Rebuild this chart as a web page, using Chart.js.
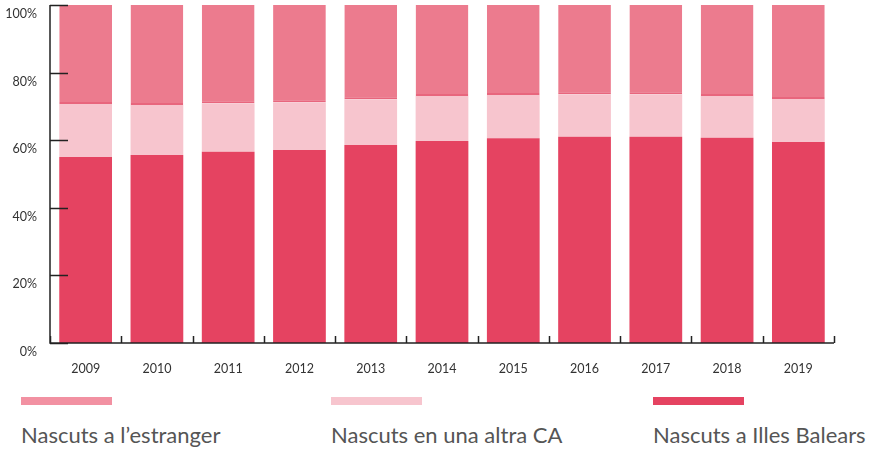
<!DOCTYPE html>
<html lang="ca">
<head>
  <meta charset="UTF-8">
  <title>Lloc de naixement</title>
  <script src="https://cdn.jsdelivr.net/npm/chart.js"></script>
  <style>
    body {
      margin: 0;
      font-family: Lato, "Open Sans", sans-serif;
      background: #fff;
    }
    #wrap {
      position: relative;
      width: 870px;
      height: 450px;
    }
    #chartBox {
      position: absolute;
      left: 0;
      top: 0;
      width: 870px;
      height: 380px;
    }
    .leg {
      position: absolute;
      top: 397px;
      font-size: 22px;
      color: #555;
    }
    .leg span {
      display: block;
      width: 91px;
      height: 8px;
      margin-bottom: 16px;
    }
  </style>
</head>
<body>
  <div id="wrap">
    <div id="chartBox"><canvas id="chart"></canvas></div>
    <div class="leg" style="left:21px"><span style="background:#f291a2"></span>Nascuts a l’estranger</div>
    <div class="leg" style="left:331px"><span style="background:#f7c5ce"></span>Nascuts en una altra CA</div>
    <div class="leg" style="left:653px"><span style="background:#e54361"></span>Nascuts a Illes Balears</div>
  </div>

  <script>
    const years = ['2009', '2010', '2011', '2012', '2013', '2014', '2015', '2016', '2017', '2018', '2019'];
    const balears = [55.0, 55.6, 56.6, 57.1, 58.6, 59.8, 60.6, 61.0, 61.0, 60.7, 59.5];
    const altraCA = [15.7, 14.8, 14.3, 14.1, 13.5, 13.3, 12.8, 12.6, 12.6, 12.4, 12.7];
    const estranger = [29.3, 29.6, 29.1, 28.8, 27.9, 26.9, 26.6, 26.4, 26.4, 26.9, 27.8];
    const yTicks = [0, 20, 40, 60, 80, 100];

    // short tick marks drawn inside the plot area, like the original
    const innerTicks = {
      id: 'innerTicks',
      afterDatasetsDraw(chart) {
        const ctx = chart.ctx;
        const x = chart.scales.x;
        const y = chart.scales.y;
        const area = chart.chartArea;
        ctx.save();
        ctx.strokeStyle = '#222';
        ctx.lineWidth = 1.5;
        ctx.beginPath();
        yTicks.forEach(v => {
          const py = Math.round(y.getPixelForValue(v)) + 0.5;
          ctx.moveTo(area.left, py);
          ctx.lineTo(area.left + 18, py);
        });
        for (let i = 0; i <= years.length; i++) {
          const px = Math.round(x.getPixelForValue(i - 0.5)) + 0.5;
          ctx.moveTo(px, area.bottom);
          ctx.lineTo(px, area.bottom - 7);
        }
        // axis lines
        ctx.moveTo(area.left, area.top);
        ctx.lineTo(area.left, area.bottom);
        ctx.lineTo(area.right, area.bottom);
        ctx.stroke();
        ctx.restore();
      }
    };

    new Chart(document.getElementById('chart'), {
      type: 'bar',
      data: {
        labels: years,
        datasets: [
          {
            label: 'Nascuts a Illes Balears',
            data: balears,
            backgroundColor: '#e54361'
          },
          {
            label: 'Nascuts en una altra CA',
            data: altraCA,
            backgroundColor: '#f7c5ce'
          },
          {
            label: 'Nascuts a l’estranger',
            data: estranger,
            backgroundColor: '#ec7b8e',
            borderColor: '#e8667d',
            borderWidth: { top: 0, left: 0, right: 0, bottom: 2 },
            borderSkipped: false
          }
        ]
      },
      options: {
        responsive: true,
        maintainAspectRatio: false,
        animation: false,
        layout: { padding: { top: 5, right: 36, left: 0, bottom: 0 } },
        plugins: {
          legend: { display: false },
          tooltip: { enabled: false }
        },
        datasets: {
          bar: { categoryPercentage: 1, barPercentage: 0.74 }
        },
        scales: {
          x: {
            stacked: true,
            grid: { display: false, drawTicks: false },
            border: { display: false },
            ticks: {
              color: '#333',
              font: { family: 'Lato', size: 12.5 },
              padding: 18,
              maxRotation: 0
            },
            afterFit(scale) {
              scale.height = 37;
              scale.paddingLeft = 0;
              scale.paddingRight = 0;
            }
          },
          y: {
            stacked: true,
            min: 0,
            max: 100,
            afterBuildTicks(scale) {
              scale.ticks = yTicks.map(v => ({ value: v }));
            },
            grid: { display: false, drawTicks: false },
            border: { display: false },
            ticks: {
              color: '#333',
              font: { family: 'Lato', size: 12.5 },
              padding: 13,
              labelOffset: 9,
              callback: v => v + '%'
            },
            afterFit(scale) {
              scale.width = 50;
              scale.paddingTop = 0;
              scale.paddingBottom = 0;
            }
          }
        }
      },
      plugins: [innerTicks]
    });
  </script>
</body>
</html>
